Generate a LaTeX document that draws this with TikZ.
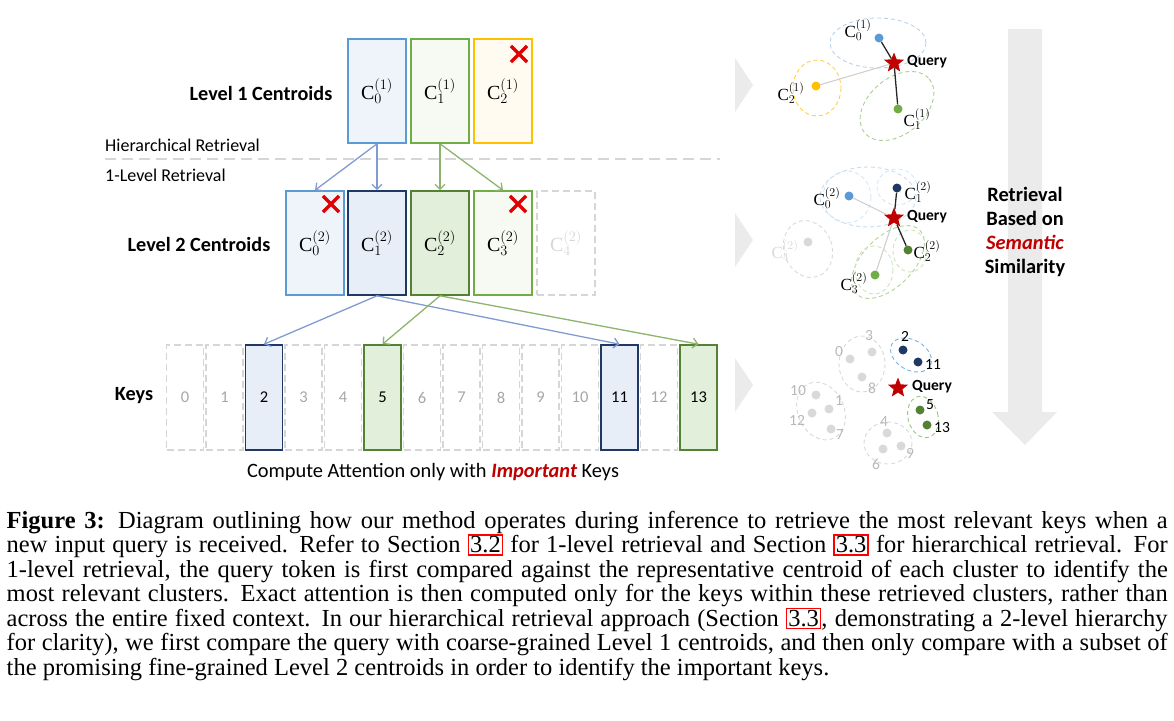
\documentclass[tikz,border=0pt]{standalone}
\usepackage{fontspec}
\setmainfont{Liberation Serif}
\newfontfamily\calibri{Carlito}
\usetikzlibrary{arrows.meta,shapes.geometric,shapes.misc,positioning}

\definecolor{lblue}{HTML}{5B9BD5}
\definecolor{navy}{HTML}{203864}
\definecolor{lgreen}{HTML}{70AD47}
\definecolor{dgreen}{HTML}{548235}
\definecolor{gold}{HTML}{FFC000}
\definecolor{offgray}{HTML}{D6D6D6}
\definecolor{txtgray}{HTML}{A6A6A6}
\definecolor{dotgray}{HTML}{D9D9D9}
\definecolor{xred}{HTML}{E00000}
\definecolor{qred}{HTML}{C00000}
\definecolor{arrblue}{HTML}{7F9BD1}
\definecolor{arrgreen}{HTML}{8DB46C}
\definecolor{paleblue}{HTML}{EEF4FA}
\definecolor{fillblue}{HTML}{E7EEF8}
\definecolor{palegreen}{HTML}{F6FAF2}
\definecolor{fillgreen}{HTML}{E2EFDA}
\definecolor{palegold}{HTML}{FFFBF0}
\definecolor{greyfill}{HTML}{EBEBEB}

\newcommand{\refbox}[1]{{\setlength{\fboxsep}{1pt}\setlength{\fboxrule}{1.4pt}\fcolorbox{red}{white}{#1}}}

\tikzstyle{lvlbox}=[rectangle,draw,line width=1.6pt,minimum width=58pt,minimum height=104pt,inner sep=0pt,font=\fontsize{20}{22}\selectfont]
\tikzstyle{bluebox}=[lvlbox,draw=lblue,fill=paleblue]
\tikzstyle{greenbox}=[lvlbox,draw=lgreen,fill=palegreen]
\tikzstyle{goldbox}=[lvlbox,draw=gold,fill=palegold]
\tikzstyle{navybox}=[lvlbox,draw=navy,fill=fillblue]
\tikzstyle{dgreenbox}=[lvlbox,draw=dgreen,fill=fillgreen]
\tikzstyle{offbox}=[lvlbox,draw=offgray,dash pattern=on 7pt off 4pt,text=offgray]
\tikzstyle{keybox}=[rectangle,draw,line width=1.6pt,minimum width=37pt,minimum height=105pt,inner sep=0pt,font=\calibri\fontsize{16.5}{19}\selectfont]
\tikzstyle{keyoff}=[keybox,draw=offgray,dash pattern=on 7pt off 4pt,text=txtgray]
\tikzstyle{keyblue}=[keybox,draw=navy,fill=fillblue]
\tikzstyle{keygreen}=[keybox,draw=dgreen,fill=fillgreen]
\tikzstyle{xmark}=[cross out,draw=xred,line width=3.2pt,minimum size=13pt,inner sep=0pt]
\tikzstyle{rowlabel}=[font=\calibri\bfseries\fontsize{20.2}{23}\selectfont]
\tikzstyle{sidelabel}=[anchor=west,inner sep=0pt,font=\calibri\fontsize{18}{21}\selectfont]
\tikzstyle{link}=[draw,line width=1.3pt,-{Straight Barb[length=5pt,width=10pt,line width=1.3pt]}]
\tikzstyle{dot}=[circle,inner sep=0pt,minimum size=9pt]
\tikzstyle{qstar}=[star,star points=5,star point ratio=2.3,fill=qred,inner sep=0pt,minimum size=21pt]
\tikzstyle{qlabel}=[anchor=west,inner sep=0pt,font=\calibri\bfseries\fontsize{15.5}{18}\selectfont]
\tikzstyle{clabel}=[inner sep=0pt,font=\fontsize{17}{19}\selectfont]
\tikzstyle{nlabel}=[inner sep=0pt,font=\calibri\fontsize{15.5}{18}\selectfont]
\tikzstyle{cluster}=[dashed,line width=0.9pt,dash pattern=on 4pt off 3pt]
\tikzstyle{near}=[draw,line width=1.3pt,black!85]
\tikzstyle{far}=[draw,line width=1pt,black!20]

\begin{document}
\begin{tikzpicture}[x=1pt,y=-1pt]
\useasboundingbox (0,0) rectangle (1174,720);

    % level 1 centroids
    \node[rowlabel] (lvl1) at (261,93) {Level 1 Centroids};
    \foreach \pos/\name/\sty in {{(377,91)/0/bluebox},{(440,91)/1/greenbox},{(503,91)/2/goldbox}}
        \node[\sty] (c1\name) at \pos {$\mathrm{C}^{(1)}_{\name}$};

    \node[sidelabel] (hier) at (105,145) {Hierarchical Retrieval};
    \draw[offgray,line width=2.4pt,dash pattern=on 11pt off 6pt] (105,159) -- (720,159);
    \node[sidelabel] (onelvl) at (105,175) {1-Level Retrieval};

    % level 2 centroids
    \node[rowlabel] (lvl2) at (199,244) {Level 2 Centroids};
    \foreach \pos/\name/\sty in {{(315,243)/0/bluebox},{(377,243)/1/navybox},{(440,243)/2/dgreenbox},{(503,243)/3/greenbox},{(566,243)/4/offbox}}
        \node[\sty] (c2\name) at \pos {$\mathrm{C}^{(2)}_{\name}$};

    \node[xmark] (x12) at (519,54) {};
    \node[xmark] (x20) at (331,204) {};
    \node[xmark] (x23) at (518,204) {};

    % keys
    \node[rowlabel] (keys) at (134,396) {Keys};
    \foreach \i/\sty in {0/keyoff,1/keyoff,2/keyblue,3/keyoff,4/keyoff,5/keygreen,6/keyoff,7/keyoff,8/keyoff,9/keyoff,10/keyoff,11/keyblue,12/keyoff,13/keygreen}
        \node[\sty] (k\i) at ({185+39.5*\i},397.5) {\i};

    \node[font=\calibri\fontsize{20.4}{23}\selectfont] (compute) at (433,472)
        {Compute Attention only with \textcolor{qred}{\bfseries\itshape Important} Keys};

    % retrieval arrows
    \foreach \source/\dest in {c10/c20,c10/c21}
        \path[link,arrblue] (\source.south) -- (\dest.north);
    \foreach \source/\dest in {c11/c22,c11/c23}
        \path[link,arrgreen] (\source.south) -- (\dest.north);
    \foreach \source/\dest in {c21/k2,c21/k11}
        \path[link,arrblue] (\source.south) -- (\dest.north);
    \foreach \source/\dest in {c22/k5,c22/k13}
        \path[link,arrgreen] (\source.south) -- (\dest.north);

    % grey pointers and the big arrow
    \foreach \y in {85,240,385}
        \fill[greyfill] (735,\y-27) -- (753,\y) -- (735,\y+27) -- cycle;
    \fill[greyfill] (1008,29) -- (1042,29) -- (1042,412) -- (1057,412) -- (1025,445) -- (992,412) -- (1008,412) -- cycle;
    \node[align=center,font=\calibri\bfseries\fontsize{20.4}{24.2}\selectfont] (sim) at (1025,232)
        {Retrieval\\Based on\\\textcolor{qred}{\itshape Semantic}\\Similarity};

    % panel 1
    \draw[cluster,lblue!45] (878,43) ellipse [x radius=48,y radius=25];
    \draw[cluster,gold!75] (817,88) ellipse [x radius=24,y radius=28];
    \draw[cluster,lgreen!60] (897,106) ellipse [x radius=42,y radius=28,rotate=40];
    \node[dot,fill=lblue] (p10) at (879,38) {};
    \node[dot,fill=lgreen] (p11) at (898,109) {};
    \node[dot,fill=gold] (p12) at (816,86) {};
    \node[qstar] (q1) at (894,63) {};
    \node[qlabel] (qt1) at (907,62) {Query};
    \node[clabel] (l10) at (858,30) {$\mathrm{C}^{(1)}_0$};
    \node[clabel] (l11) at (917,119) {$\mathrm{C}^{(1)}_1$};
    \node[clabel] (l12) at (791,93) {$\mathrm{C}^{(1)}_2$};
    \foreach \source/\dest in {q1/p10,q1/p11}
        \path[near] (\source) -- (\dest);
    \path[far] (q1) -- (p12);

    % panel 2
    \draw[cluster,lblue!35] (868,197) ellipse [x radius=48,y radius=30];
    \draw[cluster,lblue!25] (847,197) ellipse [x radius=24,y radius=26];
    \draw[cluster,lblue!25] (897,187) ellipse [x radius=20,y radius=18];
    \draw[cluster,black!15] (808,249) ellipse [x radius=24,y radius=29,rotate=20];
    \draw[cluster,lgreen!55] (888,262) ellipse [x radius=45,y radius=25,rotate=45];
    \draw[cluster,lgreen!35] (874,270) ellipse [x radius=19,y radius=24];
    \draw[cluster,lgreen!35] (910,251) ellipse [x radius=17,y radius=21];
    \node[dot,fill=lblue] (p20) at (849,196) {};
    \node[dot,fill=navy] (p21) at (897,188) {};
    \node[dot,fill=dgreen] (p22) at (908,250) {};
    \node[dot,fill=lgreen] (p23) at (875,275) {};
    \node[dot,fill=dotgray] (p24) at (808,242) {};
    \node[qstar] (q2) at (894,218) {};
    \node[qlabel] (qt2) at (907,217) {Query};
    \node[clabel] (l20) at (827,198) {$\mathrm{C}^{(2)}_0$};
    \node[clabel] (l21) at (918,192) {$\mathrm{C}^{(2)}_1$};
    \node[clabel] (l22) at (927,251) {$\mathrm{C}^{(2)}_2$};
    \node[clabel] (l23) at (854,283) {$\mathrm{C}^{(2)}_3$};
    \node[clabel,text=dotgray] (l24) at (785,251) {$\mathrm{C}^{(2)}_4$};
    \foreach \source/\dest in {q2/p21,q2/p22}
        \path[near] (\source) -- (\dest);
    \foreach \source/\dest in {q2/p20,q2/p23}
        \path[far] (\source) -- (\dest);

    % panel 3
    \draw[cluster,black!15] (862,364) ellipse [x radius=23,y radius=28];
    \draw[cluster,black!15] (821,411) ellipse [x radius=23,y radius=30,rotate=25];
    \draw[cluster,black!15] (888,443) ellipse [x radius=24,y radius=21];
    \draw[cluster,lblue!80] (911,355) ellipse [x radius=22,y radius=15,rotate=-30];
    \draw[cluster,lgreen!70] (923,417) ellipse [x radius=15,y radius=21,rotate=15];
    \foreach \pos/\name in {{(850,359)/0},{(872,352)/3},{(862,377)/8},{(816,395)/10},{(812,413)/12},{(829,409)/1},{(831,429)/7},{(887,433)/4},{(883,449)/6},{(901,446)/9}}
        \node[dot,fill=dotgray] (d\name) at \pos {};
    \foreach \pos/\name in {{(903,350)/2},{(918,362)/11}}
        \node[dot,fill=navy] (d\name) at \pos {};
    \foreach \pos/\name in {{(920,410)/5},{(927,425)/13}}
        \node[dot,fill=dgreen] (d\name) at \pos {};
    \foreach \pos/\name in {{(839,352)/0},{(869,336)/3},{(872,388)/8},{(798,391)/10},{(839,401)/1},{(797,420)/12},{(840,435)/7},{(884,422)/4},{(876,464)/6},{(910,453)/9}}
        \node[nlabel,text=txtgray!80] (n\name) at \pos {\name};
    \foreach \pos/\name in {{(905,336)/2},{(933,365)/11},{(930,405)/5},{(942,428)/13}}
        \node[nlabel] (n\name) at \pos {\name};
    \node[qstar] (q3) at (898,388) {};
    \node[qlabel] (qt3) at (912,387) {Query};

    % caption
    \node[anchor=north west,text width=1161pt,align=justify,inner sep=0pt,font=\fontsize{24.5}{24.5}\selectfont] (caption) at (6.5,511)
        {\hyphenpenalty=10000 \tolerance=10000
        \textbf{Figure 3:} Diagram outlining how our method operates during inference to retrieve the most relevant keys when a\linebreak
        new input query is received. Refer to Section \refbox{3.2} for 1-level retrieval and Section \refbox{3.3} for hierarchical retrieval. For\linebreak
        1-level retrieval, the query token is first compared against the representative centroid of each cluster to identify the\linebreak
        most relevant clusters. Exact attention is then computed only for the keys within these retrieved clusters, rather than\linebreak
        across the entire fixed context. In our hierarchical retrieval approach (Section \refbox{3.3}, demonstrating a 2-level hierarchy\linebreak
        for clarity), we first compare the query with coarse-grained Level 1 centroids, and then only compare with a subset of\linebreak
        the promising fine-grained Level 2 centroids in order to identify the important keys.};

\end{tikzpicture}
\end{document}
